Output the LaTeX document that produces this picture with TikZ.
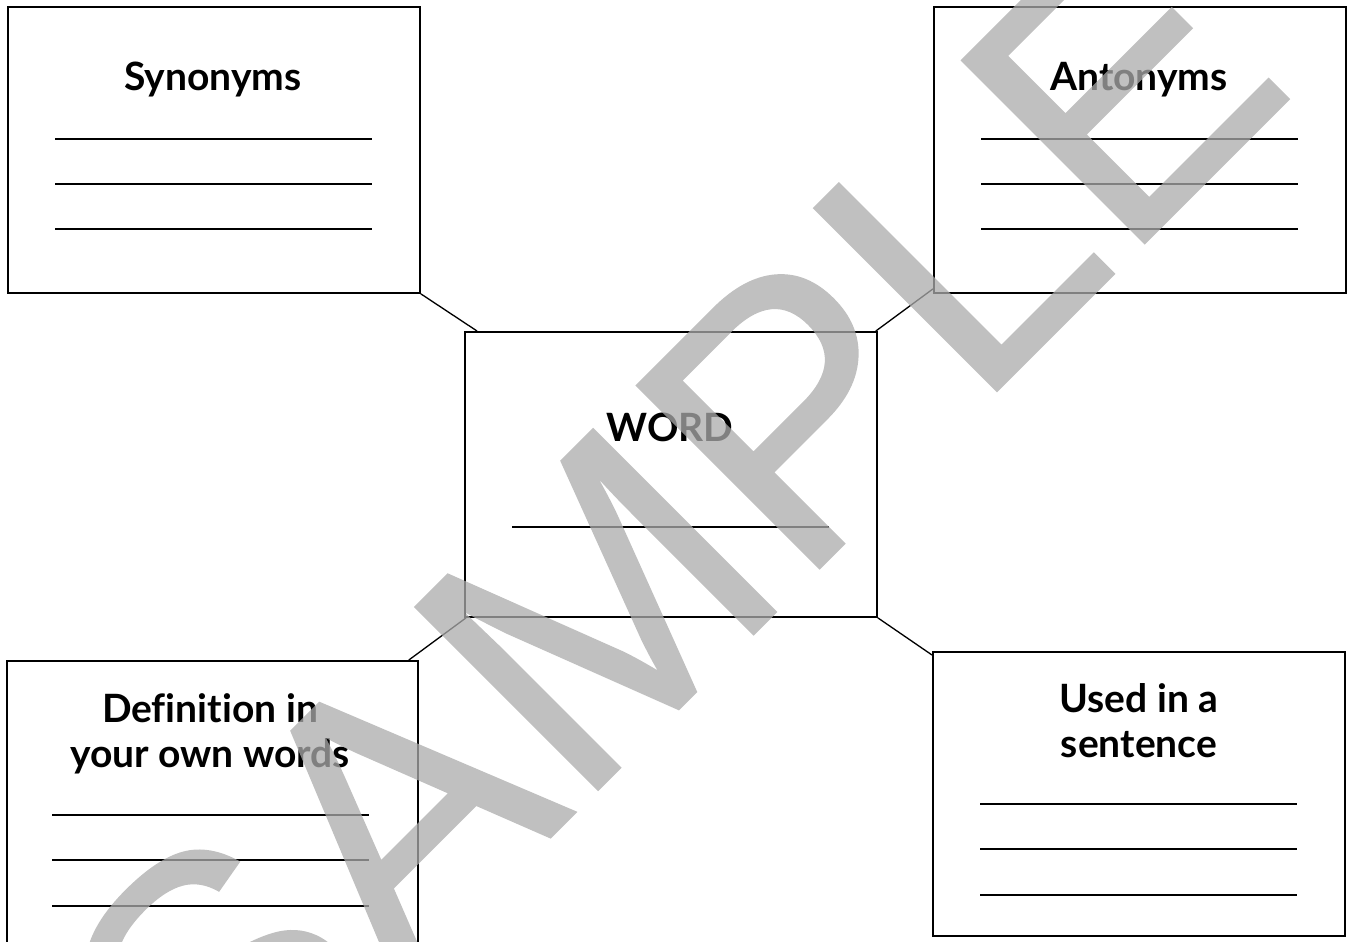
\documentclass[tikz,border=0pt]{standalone}
\usepackage{fontspec}
\setmainfont{Lato}[Ligatures=NoCommon]
\newfontfamily\wmfont{Liberation Sans}[FakeBold=0.5]
\usetikzlibrary{calc}
\begin{document}
\begin{tikzpicture}[x=0.02cm,y=-0.02cm,
  box/.style={draw,line width=1.1pt,anchor=north west,inner sep=0pt,minimum width=8.24cm},
  title/.style={font=\fontsize{22.2pt}{25.5pt}\bfseries\selectfont,align=center,anchor=base,inner sep=0pt},
  blank/.style={line width=0.75pt},
  link/.style={line width=0.75pt}]
\useasboundingbox (0,0) rectangle (1351,942);
% boxes
\node[box,minimum height=5.72cm] (syn) at (7,6) {};
\node[box,minimum height=5.72cm] (ant) at (933,6) {};
\node[box,minimum height=5.70cm] (word) at (464,331) {};
\node[box,minimum height=6.0cm,minimum width=8.22cm] (def) at (6,660) {};
\node[box,minimum height=5.68cm] (used) at (932,651) {};
% titles
\node[title] (tsyn) at (213,91) {Synonyms};
\node[title] (tant) at (1139,91) {Antonyms};
\node[title] (tword) at (670,441) {WORD};
\node[title] (tdef) at (210,767) {Definition in\\your own words};
\node[title] (tused) at (1139,757) {Used in a\\sentence};
% blanks
\foreach \y in {139,184,229} {
  \draw[blank] (55,\y) -- (372,\y);
  \draw[blank] (981,\y) -- (1298,\y);
}
\draw[blank] (512,527) -- (829,527);
\foreach \y in {815,860,906} \draw[blank] (52,\y) -- (369,\y);
\foreach \y in {804,849,895} \draw[blank] (980,\y) -- (1297,\y);
% connectors
\draw[link] (syn.south east) -- ($(word.north west)+(13,0)$);
\draw[link] ($(word.north east)+(-2,0)$) -- ($(ant.south west)+(0,-5)$);
\draw[link] ($(word.south west)+(2,0)$) -- ($(def.north east)+(-10,0)$);
\draw[link] (word.south east) -- ($(used.north west)+(0,4)$);
% watermark
\begin{scope}[transparency group,opacity=0.75]
\node[font=\wmfont\fontsize{214pt}{214pt}\selectfont,text=black!33,rotate=45,anchor=base,inner sep=0pt] (wm) at (761,627) {SAMPLE};
\end{scope}
\end{tikzpicture}
\end{document}
